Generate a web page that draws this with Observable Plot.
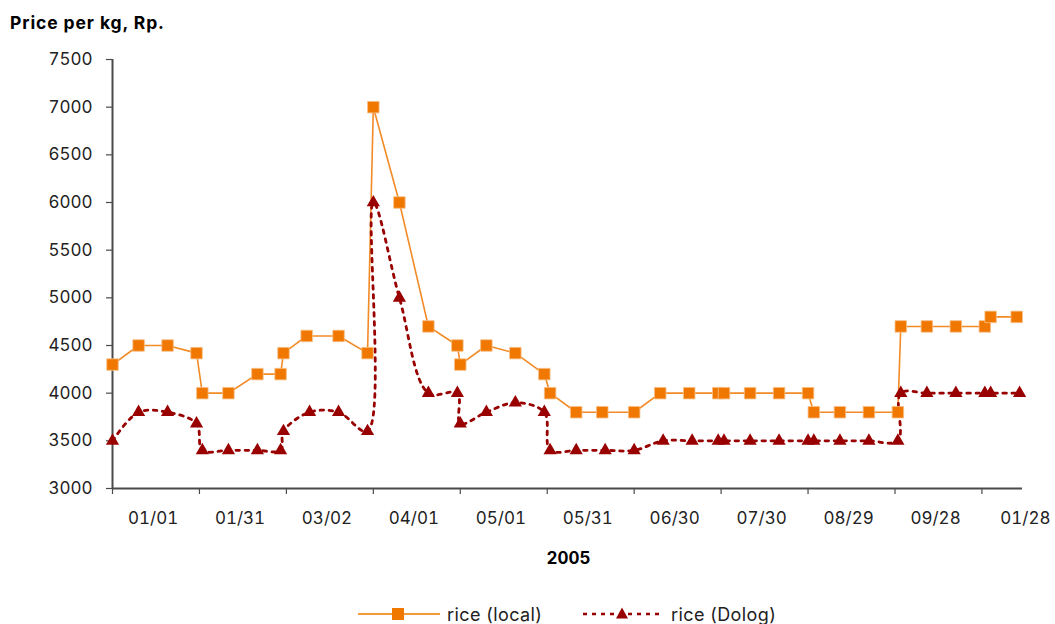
<!DOCTYPE html>
<html>
<head>
<meta charset="utf-8">
<script src="https://cdn.jsdelivr.net/npm/d3@7"></script>
<script src="https://cdn.jsdelivr.net/npm/@observablehq/plot@0.6"></script>
<style>
  body { margin: 0; background: #fff; font-family: Inter, "Liberation Sans", Arial, sans-serif; }
  #wrap { position: relative; width: 1055px; height: 624px; overflow: hidden; }
  #chart { position: absolute; left: 0; top: 0; }
  #title { position: absolute; left: 10px; top: 14px; font-weight: 700; font-size: 17.5px; letter-spacing: 0.9px; line-height: 1; color: #000; }
  #xtitle { position: absolute; left: 0; width: 1137px; text-align: center; top: 550px; font-weight: 700; font-size: 17px; line-height: 1; color: #000; font-variant-numeric: tabular-nums; }
  .leg { position: absolute; top: 603px; height: 22px; display: flex; align-items: center; font-size: 18px; letter-spacing: 0.4px; color: #222; }
  .leg svg { display: block; margin-right: 7px; }
</style>
</head>
<body>
<div id="wrap">
  <div id="chart"></div>
  <div id="title">Price per kg, Rp.</div>
  <div id="xtitle">2005</div>
  <div class="leg" style="left:358px"><svg width="82" height="22"><line x1="0" x2="82" y1="11" y2="11" stroke="#f39a3c" stroke-width="2"/><rect x="34" y="5" width="12" height="12" fill="#f07800"/></svg><span>rice (local)</span></div>
  <div class="leg" style="left:583px"><svg width="80" height="22"><line x1="0" x2="78" y1="11" y2="11" stroke="#990000" stroke-width="2.5" stroke-dasharray="4,5"/><path d="M39,4.5 L45,15.5 L33,15.5 Z" fill="#990000"/></svg><span style="margin-left:1px">rice (Dolog)</span></div>
</div>
<script>
// ---- data ----
const localDates = ["2004-12-18","2004-12-27","2005-01-06","2005-01-16","2005-01-18","2005-01-27","2005-02-06","2005-02-14","2005-02-15","2005-02-23","2005-03-06","2005-03-16","2005-03-18","2005-03-27","2005-04-06","2005-04-16","2005-04-17","2005-04-26","2005-05-06","2005-05-16","2005-05-18","2005-05-27","2005-06-05","2005-06-16","2005-06-25","2005-07-05","2005-07-15","2005-07-17","2005-07-26","2005-08-05","2005-08-15","2005-08-17","2005-08-26","2005-09-05","2005-09-15","2005-09-16","2005-09-25","2005-10-05","2005-10-15","2005-10-17","2005-10-26"];
const localPrices = [4300,4500,4500,4420,4000,4000,4200,4200,4420,4600,4600,4420,7000,6000,4700,4500,4300,4500,4420,4200,4000,3800,3800,3800,4000,4000,4000,4000,4000,4000,4000,3800,3800,3800,3800,4700,4700,4700,4700,4800,4800];

const dologDates = ["2004-12-18","2004-12-27","2005-01-06","2005-01-16","2005-01-18","2005-01-27","2005-02-06","2005-02-14","2005-02-15","2005-02-24","2005-03-06","2005-03-16","2005-03-18","2005-03-27","2005-04-06","2005-04-16","2005-04-17","2005-04-26","2005-05-06","2005-05-16","2005-05-18","2005-05-27","2005-06-06","2005-06-16","2005-06-26","2005-07-06","2005-07-15","2005-07-17","2005-07-26","2005-08-05","2005-08-15","2005-08-17","2005-08-26","2005-09-05","2005-09-15","2005-09-16","2005-09-25","2005-10-05","2005-10-15","2005-10-17","2005-10-27"];
const dologPrices = [3500,3800,3800,3680,3400,3400,3400,3400,3600,3800,3800,3600,6000,5000,4000,4000,3680,3800,3900,3800,3400,3400,3400,3400,3500,3500,3500,3500,3500,3500,3500,3500,3500,3500,3500,4000,4000,4000,4000,4000,4000];

const xTickDates = ["2004-12-18","2005-01-17","2005-02-16","2005-03-18","2005-04-17","2005-05-17","2005-06-16","2005-07-16","2005-08-15","2005-09-14","2005-10-14"];
const xLabelDates = ["2005-01-01","2005-01-31","2005-03-02","2005-04-01","2005-05-01","2005-05-31","2005-06-30","2005-07-30","2005-08-29","2005-09-28","2005-10-29"];
const xLabels = ["01/01","01/31","03/02","04/01","05/01","05/31","06/30","07/30","08/29","09/28","01/28"];
const yTicks = [3000,3500,4000,4500,5000,5500,6000,6500,7000,7500];
const xDomain = ["2004-12-18","2005-10-28"];

// ---- build ----
const P = s => new Date(s + "T00:00:00Z");
const local = localDates.map((d, i) => ({date: P(d), price: localPrices[i]}));
const dolog = dologDates.map((d, i) => ({date: P(d), price: dologPrices[i]}));
const ticks = xTickDates.map(P);
const labels = xLabelDates.map((d, i) => ({date: P(d), text: xLabels[i]}));
const axisColor = "#4a4a4a";

const chart = Plot.plot({
  width: 1055,
  height: 545,
  marginLeft: 112,
  marginRight: 33,
  marginTop: 59,
  marginBottom: 57,
  style: {fontFamily: "Inter, 'Liberation Sans', Arial, sans-serif", fontSize: "17px", color: "#222", background: "#fff"},
  x: {type: "utc", domain: xDomain.map(P)},
  y: {domain: [3000, 7500]},
  marks: [
    Plot.axisY({ticks: yTicks, tickSize: 6, tickPadding: 14, tickFormat: d => String(d), label: null, stroke: axisColor, strokeWidth: 1.2, fill: "#222", fontVariant: "tabular-nums"}),
    Plot.axisX({ticks: ticks, tickSize: 6, tickFormat: () => "", label: null, stroke: axisColor, strokeWidth: 1.2}),
    Plot.text(labels, {x: "date", text: "text", frameAnchor: "bottom", dy: 35, fill: "#222", fontSize: 17, fontVariant: "tabular-nums"}),
    Plot.ruleX([P(xDomain[0])], {y1: 3000, y2: 7500, stroke: axisColor, strokeWidth: 2}),
    Plot.ruleY([3000], {x1: P(xDomain[0]), x2: P(xDomain[1]), stroke: axisColor, strokeWidth: 2}),
    Plot.line(local, {x: "date", y: "price", stroke: "#f28a26", strokeWidth: 1.6}),
    Plot.line(dolog, {x: "date", y: "price", stroke: "#990000", strokeWidth: 2.8, strokeDasharray: "3.5,5.5", curve: "catmull-rom"}),
    Plot.dot(local, {x: "date", y: "price", symbol: "square", r: 6.5, fill: "#f07800", stroke: "#f7c08a", strokeWidth: 0.8}),
    Plot.dot(dolog, {x: "date", y: "price", symbol: "triangle", r: 4.9, fill: "#990000"})
  ]
});
document.getElementById("chart").appendChild(chart);
</script>
</body>
</html>
